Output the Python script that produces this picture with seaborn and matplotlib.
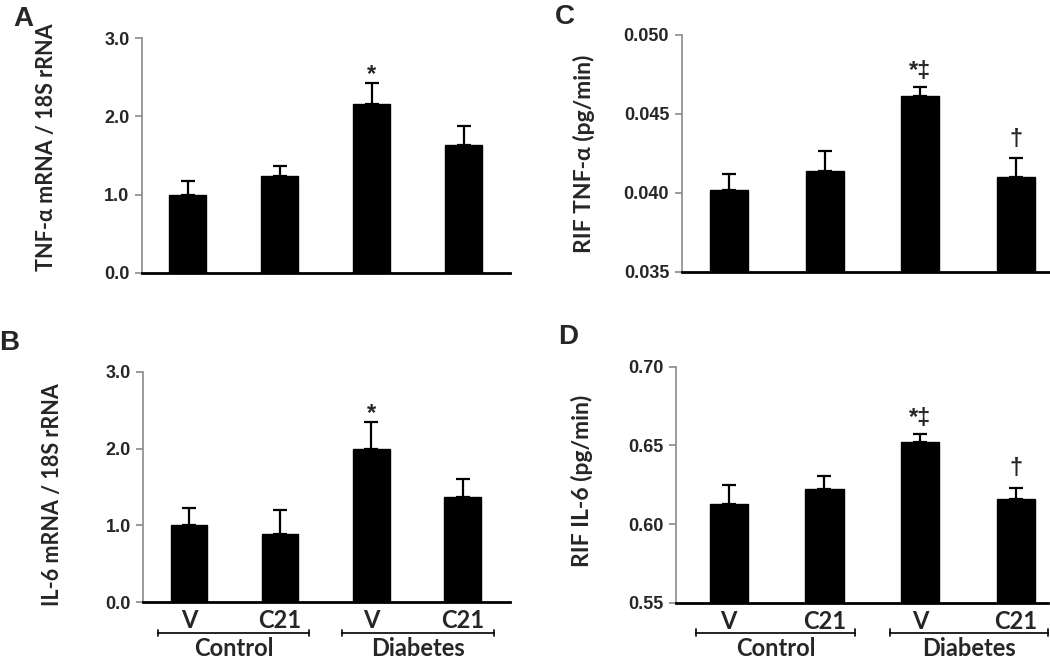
import numpy as np
import pandas as pd
import matplotlib
matplotlib.use("Agg")
import matplotlib.pyplot as plt
import matplotlib.transforms as mtrans
import seaborn as sns

# ---------------- data ----------------
conditions = ["Control V", "Control C21", "Diabetes V", "Diabetes C21"]
tick_labels = ["V", "C21", "V", "C21"]
groups = ["Control", "Diabetes"]

tnf_mrna = [1.00, 1.24, 2.16, 1.64]
tnf_mrna_err = [0.175, 0.13, 0.26, 0.24]
il6_mrna = [1.00, 0.885, 2.00, 1.373]
il6_mrna_err = [0.23, 0.315, 0.345, 0.237]
rif_tnf = [0.04016, 0.04138, 0.04611, 0.04098]
rif_tnf_err = [0.00105, 0.00127, 0.00058, 0.00121]
rif_il6 = [0.6125, 0.6223, 0.6521, 0.6159]
rif_il6_err = [0.0125, 0.0084, 0.0053, 0.0072]

sig_mrna = ["", "", "*", ""]
sig_rif = ["", "", "*\u2021", "\u2020"]

# ---------------- style ----------------
sns.set_style("white")
plt.rcParams["font.family"] = ["Lato", "DejaVu Sans"]

fig = plt.figure(figsize=(10.5, 6.6), dpi=100)

TICKFONT = dict(family=["Liberation Sans", "DejaVu Sans"], weight="bold", size=13)
CATFONT = dict(family=["Lato", "DejaVu Sans"], weight="bold", size=17)
SIG_OFFSET = {"*": 1.5, "*\u2021": 6.5, "\u2020": 9.0}


def panel(rect, vals, errs, ylabel, ylim, yticks, fmt, xlim, sig, letter, letter_xy,
          ylabel_xy, label_size, show_x, bracket_y=None):
    ax = fig.add_axes(rect)
    df = pd.DataFrame({"cond": conditions, "val": vals})
    sns.barplot(data=df, x="cond", y="val", order=conditions, color="black",
                width=0.4, ax=ax, errorbar=None, saturation=1)
    for p in ax.patches:
        p.set_edgecolor("black")
        p.set_facecolor("black")
    ax.errorbar(np.arange(4), vals, yerr=[np.zeros(4), errs], fmt="none",
                ecolor="black", elinewidth=1.6, capsize=5, capthick=1.6, zorder=3)
    ax.set_ylim(*ylim)
    ax.set_xlim(*xlim)
    ax.set_yticks(yticks)
    ax.set_yticklabels([fmt % t for t in yticks], **TICKFONT)
    ax.set_xlabel("")
    ax.set_ylabel(ylabel, family=["Lato", "DejaVu Sans"], weight="bold", size=label_size)
    ax.yaxis.set_label_coords(ylabel_xy[0], ylabel_xy[1],
                              transform=mtrans.blended_transform_factory(
                                  fig.transFigure, ax.transAxes))
    for s in ["top", "right"]:
        ax.spines[s].set_visible(False)
    ax.spines["left"].set_color("#8a8a8a")
    ax.spines["left"].set_linewidth(1.2)
    ax.spines["bottom"].set_color("black")
    ax.spines["bottom"].set_linewidth(2.0)
    ax.tick_params(axis="y", direction="out", length=5, width=1.2, color="#8a8a8a",
                   left=True, pad=4)
    ax.tick_params(axis="x", length=0, bottom=False)
    if show_x:
        ax.set_xticks(range(4))
        ax.set_xticklabels(tick_labels, **CATFONT)
        ax.tick_params(axis="x", pad=5)
    else:
        ax.set_xticklabels([])
    for i, s in enumerate(sig):
        if s:
            ax.annotate(s, (i, vals[i] + errs[i]), xytext=(0, SIG_OFFSET[s]),
                        textcoords="offset points", ha="center", va="baseline",
                        family=["Liberation Sans", "DejaVu Sans"], weight="bold",
                        size=17)
    fig.text(letter_xy[0], letter_xy[1], letter, ha="center", va="center",
             family=["Liberation Sans", "DejaVu Sans"], weight="bold", size=20)
    if bracket_y is not None:
        tr = mtrans.blended_transform_factory(ax.transData, ax.transAxes)
        spans = [(-0.34, 1.32), (1.68, 3.34)]
        for (x0, x1), g in zip(spans, groups):
            ax.plot([x0, x1], [bracket_y, bracket_y], color="black", lw=1.2,
                    transform=tr, clip_on=False)
            for xe in (x0, x1):
                ax.plot([xe, xe], [bracket_y - 0.015, bracket_y + 0.015], color="black",
                        lw=1.2, transform=tr, clip_on=False)
            ax.text((x0 + x1) / 2, bracket_y - 0.098, g, transform=tr, ha="center",
                    va="baseline", **CATFONT)
    return ax


panel([0.1352, 0.5864, 0.3505, 0.3560], tnf_mrna, tnf_mrna_err,
      "TNF-\u03b1 mRNA / 18S rRNA", (0, 3.0), [0, 1, 2, 3], "%.1f",
      (-0.495, 3.505), sig_mrna, "A", (23 / 1050, 1 - 19 / 660), (57 / 1050, 0.536),
      15.5, False)
panel([0.6492, 0.5883, 0.3508, 0.3587], rif_tnf, rif_tnf_err,
      "RIF TNF-\u03b1 (pg/min)", (0.035, 0.050), [0.035, 0.040, 0.045, 0.050], "%.3f",
      (-0.5, 3.36), sig_rif, "C", (565 / 1050, 1 - 17 / 660), (595 / 1050, 0.5),
      16.5, False)
panel([0.1365, 0.0874, 0.3492, 0.3494], il6_mrna, il6_mrna_err,
      "IL-6 mRNA / 18S rRNA", (0, 3.0), [0, 1, 2, 3], "%.1f",
      (-0.5, 3.52), sig_mrna, "B", (9 / 1050, 1 - 343 / 660), (63 / 1050, 0.467),
      15.5, True, bracket_y=-0.133)
panel([0.6435, 0.0868, 0.3546, 0.3576], rif_il6, rif_il6_err,
      "RIF IL-6 (pg/min)", (0.55, 0.70), [0.55, 0.60, 0.65, 0.70], "%.2f",
      (-0.554, 3.336), sig_rif, "D", (568 / 1050, 1 - 337 / 660), (593 / 1050, 0.515),
      16.5, True, bracket_y=-0.128)

fig.savefig("out.png", dpi=100)
